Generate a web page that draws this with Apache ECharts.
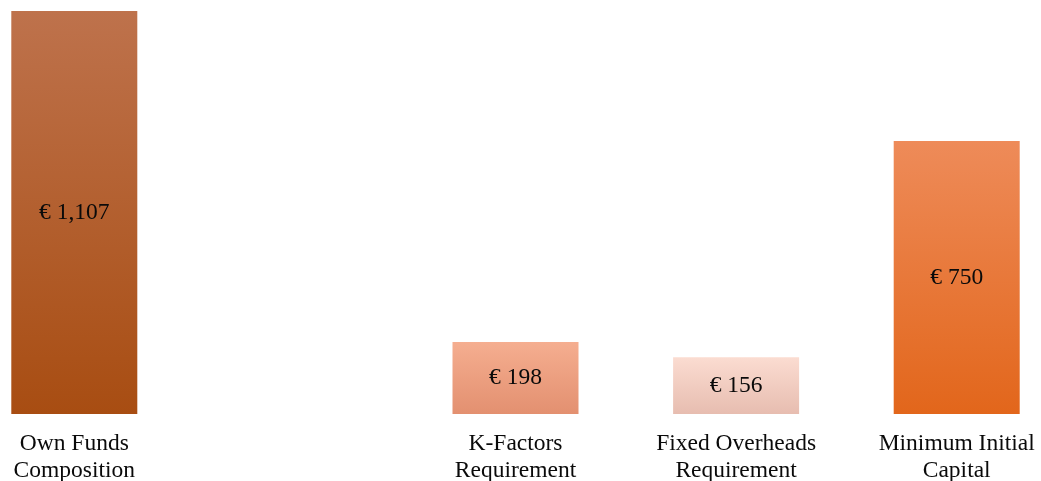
<!DOCTYPE html>
<html>
<head>
<meta charset="utf-8">
<style>
  html, body { margin: 0; padding: 0; background: #fff; overflow: hidden; }
  /* The source plot's category bands run past both page edges,
     so the chart box is wider than the window and shifted left. */
  #chart { width: 1103px; height: 481px; position: absolute; left: -36px; top: 0; }
</style>
<script src="https://cdn.jsdelivr.net/npm/echarts@6/dist/echarts.min.js"></script>
</head>
<body>
<div id="chart"></div>
<script>
// The second slot is a deliberate gap in the source chart.
const categories = [
  "Own Funds\nComposition",
  "",
  "K-Factors\nRequirement",
  "Fixed Overheads\nRequirement",
  "Minimum Initial\nCapital",
];
const values = [1107, null, 198, 156, 750];
// [top, bottom] of each bar's vertical gradient
const barColors = [
  ["#be724c", "#a84d12"],
  null,
  ["#f5ae90", "#e39070"],
  ["#fbdcd1", "#e7bdb0"],
  ["#ee8b59", "#e2661b"],
];

const fmt = (v) => "€ " + v.toLocaleString("en-US");

const data = values.map((v, i) =>
  v == null
    ? "-"
    : {
        value: v,
        itemStyle: {
          color: new echarts.graphic.LinearGradient(0, 0, 0, 1, [
            { offset: 0, color: barColors[i][0] },
            { offset: 1, color: barColors[i][1] },
          ]),
        },
      }
);

const chart = echarts.init(document.getElementById("chart"));
chart.setOption({
  animation: false,
  // v6 shrinks the grid to keep axis labels in bounds; the source lets the
  // two-line labels run to the bottom edge, so pin the grid instead.
  grid: { left: 0, right: 0, top: 11, bottom: 67, outerBoundsMode: "none" },
  xAxis: {
    type: "category",
    data: categories,
    axisLine: { show: false },
    axisTick: { show: false },
    axisLabel: {
      interval: 0,
      margin: 16,
      color: "#0a0a0a",
      fontFamily: "Liberation Serif",
      fontSize: 23.5,
      lineHeight: 27,
    },
  },
  yAxis: { type: "value", min: 0, max: 1107, show: false },
  series: [
    {
      type: "bar",
      data,
      barWidth: 126,
      label: {
        show: true,
        position: "inside",
        formatter: (p) => fmt(p.value),
        color: "#0a0a0a",
        fontFamily: "Liberation Serif",
        fontSize: 23.5,
      },
    },
  ],
});
</script>
</body>
</html>
